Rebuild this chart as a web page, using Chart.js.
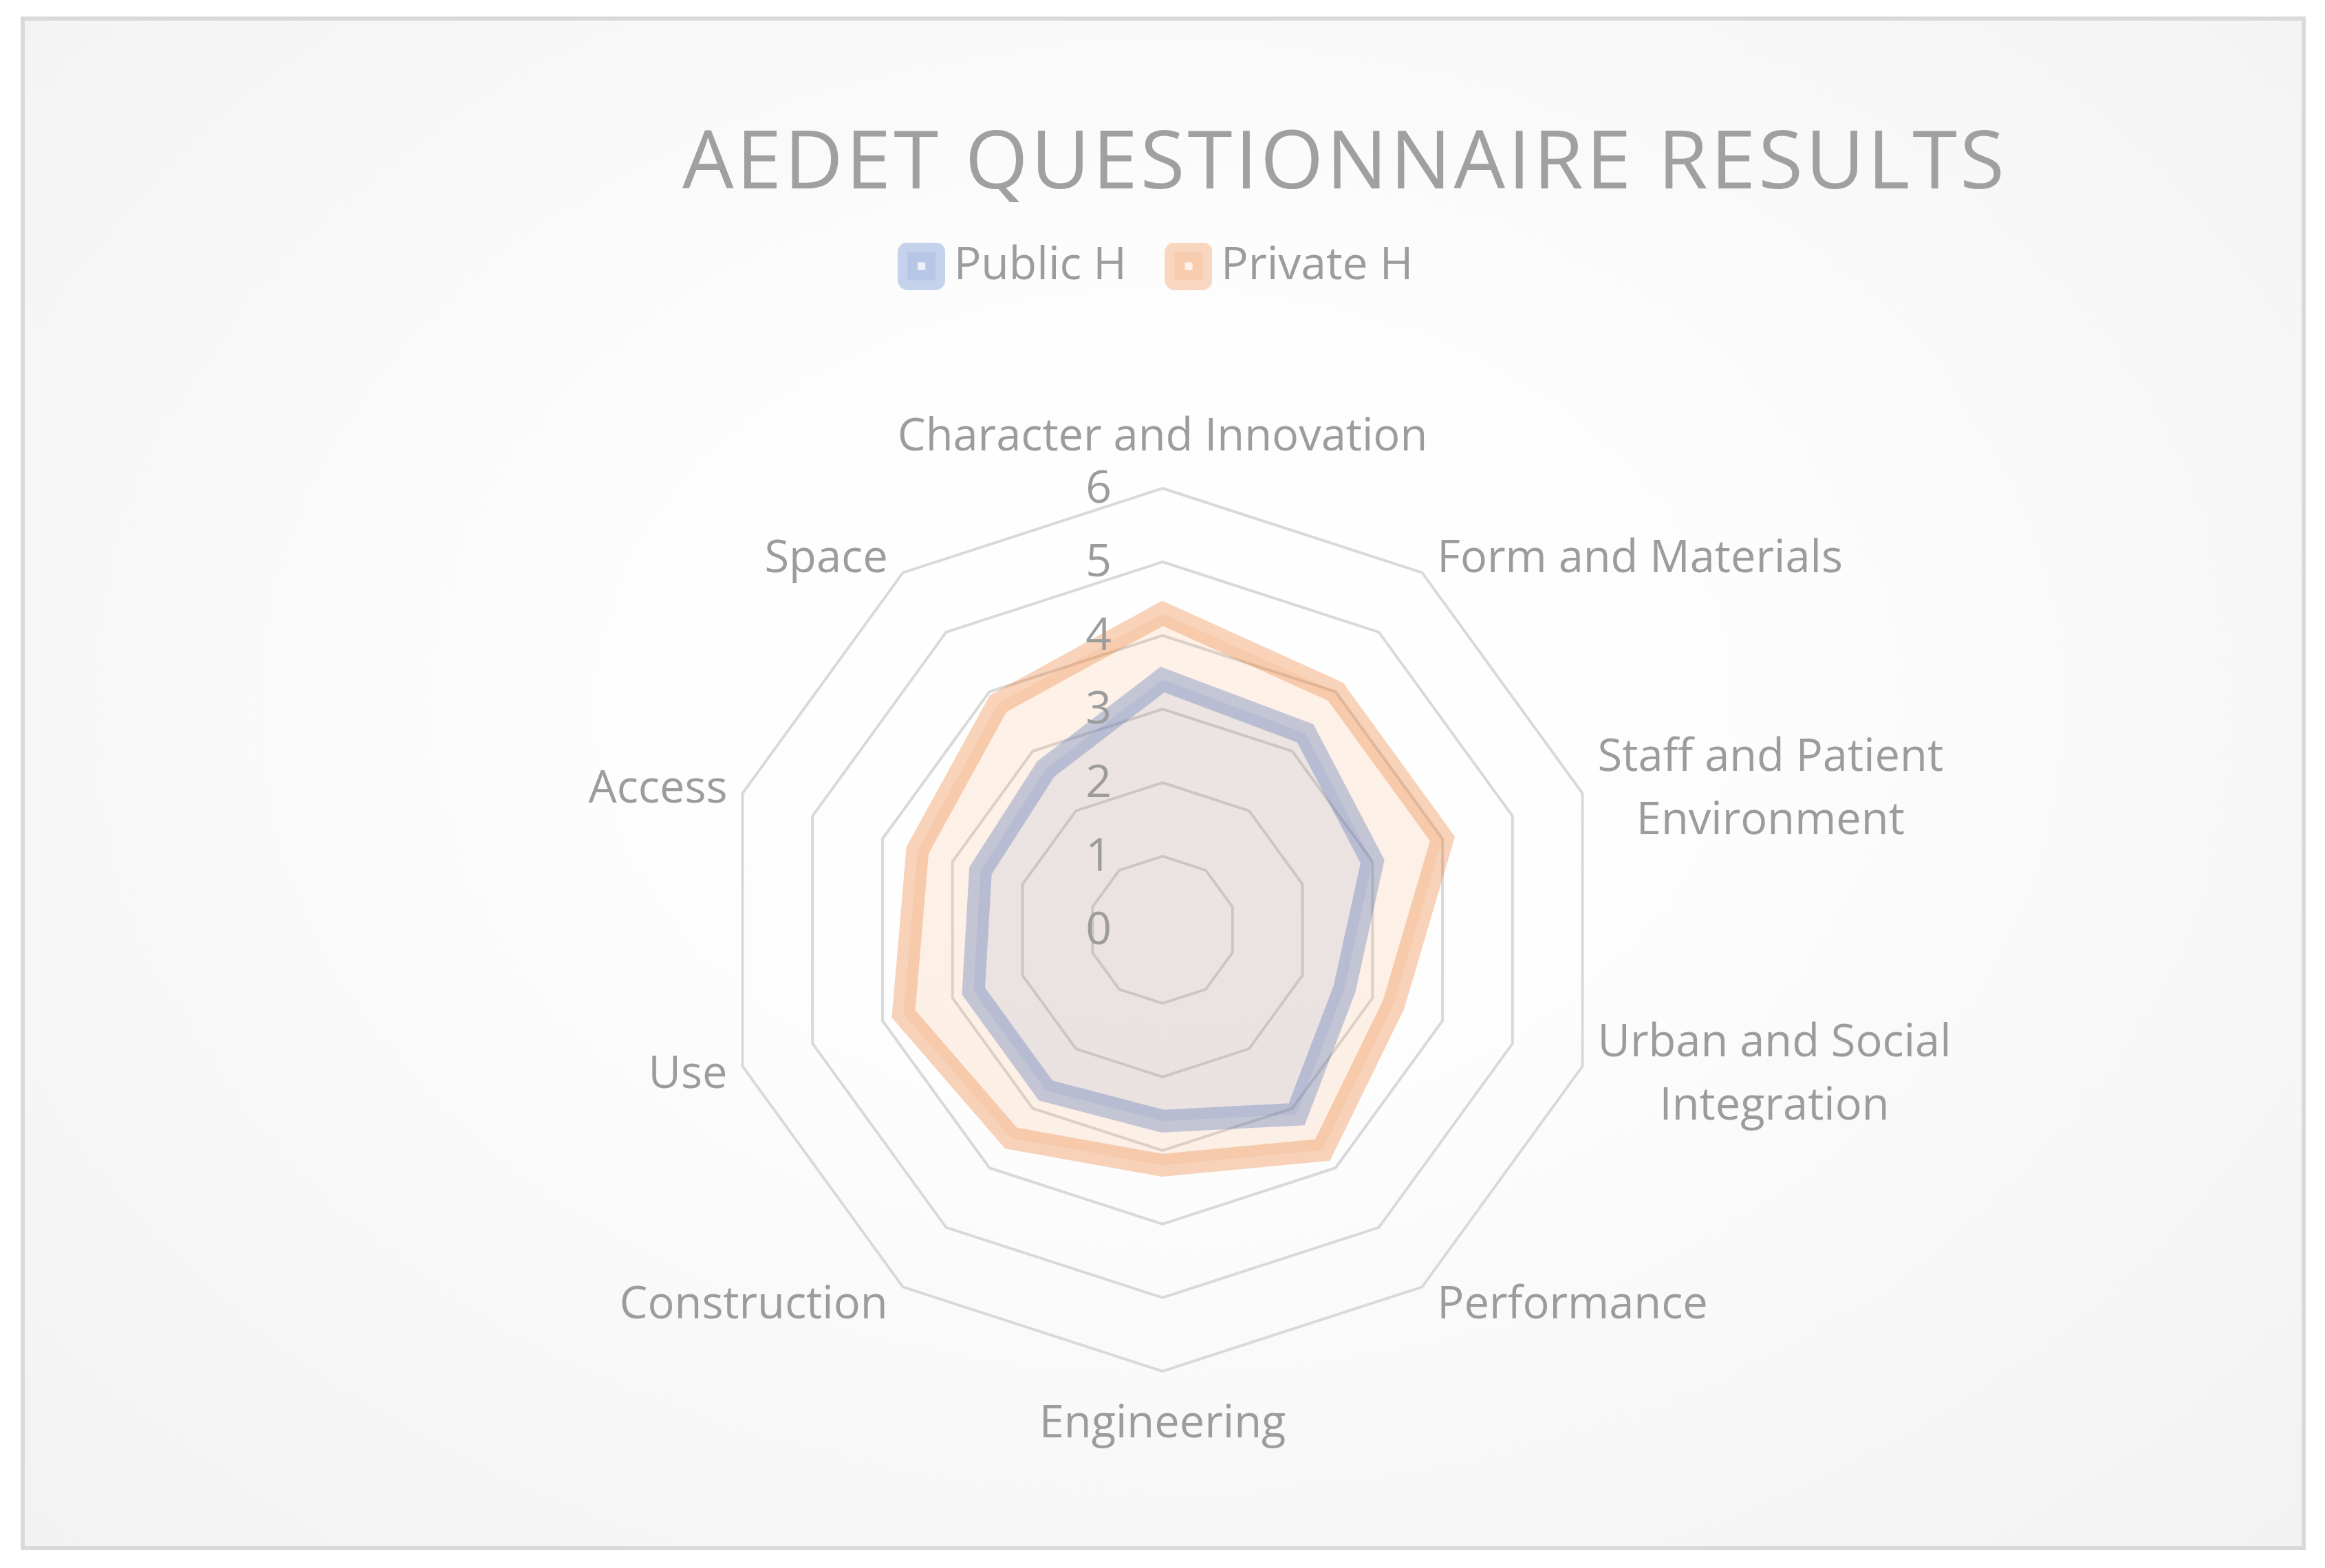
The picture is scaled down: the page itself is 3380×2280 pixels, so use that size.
<!DOCTYPE html>
<html>
<head>
<meta charset="utf-8">
<title>AEDET Questionnaire Results</title>
<script src="https://cdn.jsdelivr.net/npm/chart.js@4.4.1/dist/chart.umd.min.js"></script>
<style>
  body { margin: 0; background: #ffffff; }
  #marco {
    position: absolute; left: 30px; top: 24px; width: 3322px; height: 2230px;
    box-sizing: border-box; border: 6px solid #d9d9d9;
    background: radial-gradient(ellipse at 50% 45%, #ffffff 0%, #fdfdfd 35%, #f2f2f2 100%);
  }
  #grafico { position: absolute; left: 0; top: 0; }
</style>
</head>
<body>
<div id="marco"></div>
<canvas id="grafico" width="3380" height="2280"></canvas>

<script>
// Datos del grafico
const categorias = [
  "Character and Innovation",
  "Form and Materials",
  ["Staff and Patient", "Environment"],
  ["Urban and Social", "Integration"],
  "Performance",
  "Engineering",
  "Construction",
  "Use",
  "Access",
  "Space"
];
const publicH = [3.4, 3.3, 3.0, 2.6, 3.1, 2.6, 2.7, 2.7, 2.6, 2.7];
const privateH = [4.3, 4.0, 4.0, 3.3, 3.7, 3.2, 3.5, 3.7, 3.5, 3.8];
const valoresEje = [0, 1, 2, 3, 4, 5, 6];
const etiquetasEje = ["0", "1", "2", "3", "4", "5", "6"];

const fuente = "'Open Sans'";
const gris = "#9c9c9c";
const azul = "68, 114, 196";
const naranja = "237, 125, 49";

// marcador de la leyenda (cuadro redondeado con un cuadrito blanco al medio)
function marcador(rgb) {
  const c = document.createElement("canvas");
  c.width = 69; c.height = 69;
  const g = c.getContext("2d");
  g.fillStyle = "rgba(" + rgb + ", 0.30)";
  g.beginPath(); g.roundRect(0, 0, 69, 69, 14); g.fill();
  g.fillStyle = "rgba(" + rgb + ", 0.12)";
  g.fillRect(14, 14, 41, 41);
  g.fillStyle = "rgba(255, 255, 255, 0.75)";
  g.fillRect(29, 29, 11, 11);
  return c;
}
const marcadores = [marcador(azul), marcador(naranja)];

// titulo movido a la derecha, como en el original
const tituloPlugin = {
  id: "tituloPlugin",
  afterDraw(chart) {
    const ctx = chart.ctx;
    const texto = "AEDET QUESTIONNAIRE RESULTS";
    ctx.save();
    ctx.font = "118px " + fuente;
    ctx.fillStyle = "#a0a0a0";
    ctx.textAlign = "left";
    ctx.textBaseline = "alphabetic";
    const ancho = ctx.measureText(texto).width;
    ctx.letterSpacing = Math.max(0, (1922 - ancho) / (texto.length - 1)) + "px";
    ctx.fillText(texto, 992, 274);
    ctx.restore();
  }
};

// etiquetas de las categorias y numeros del eje
const etiquetasPlugin = {
  id: "etiquetasPlugin",
  afterDatasetsDraw(chart) {
    const r = chart.scales.r;
    const ctx = chart.ctx;
    ctx.save();
    ctx.fillStyle = gris;
    ctx.textBaseline = "middle";
    ctx.textAlign = "center";

    ctx.font = "66px " + fuente;
    valoresEje.forEach((v, i) => {
      const d = r.getDistanceFromCenterForValue(v);
      ctx.fillText(etiquetasEje[i], r.xCenter - 93, r.yCenter - d + 2);
    });

    ctx.font = "65px " + fuente;
    chart.data.labels.forEach((lab, i) => {
      const lineas = Array.isArray(lab) ? lab : [lab];
      const p = r.getPointPositionForValue(i, r.max);
      const a = r.getIndexAngle(i);
      const s = Math.sin(a), c = Math.cos(a);
      const anchoBloque = Math.max(...lineas.map((l) => ctx.measureText(l).width));
      let cx, cy;
      if (Math.abs(s) < 0.01) {
        cx = p.x;
        cy = p.y + (c > 0 ? -74 : 77);
      } else {
        cx = p.x + (s > 0 ? 22 + anchoBloque / 2 : -22 - anchoBloque / 2);
        cy = p.y - c * 28 + 4;
      }
      lineas.forEach((l, k) => {
        ctx.fillText(l, cx, cy + (k - (lineas.length - 1) / 2) * 92);
      });
    });
    ctx.restore();
  }
};

const data = {
  labels: categorias,
  datasets: [
    {
      label: "Public H",
      data: publicH,
      borderColor: "rgba(" + azul + ", 0.34)",
      backgroundColor: "rgba(" + azul + ", 0.10)",
      borderWidth: 33,
      fill: "origin",
      pointRadius: 0,
      order: 1
    },
    {
      label: "Private H",
      data: privateH,
      borderColor: "rgba(" + naranja + ", 0.33)",
      backgroundColor: "rgba(" + naranja + ", 0.11)",
      borderWidth: 33,
      fill: "origin",
      pointRadius: 0,
      order: 0
    }
  ]
};

const config = {
  type: "radar",
  data,
  options: {
    responsive: false,
    animation: false,
    layout: {
      padding: { left: 1048, right: 1048, top: 278, bottom: 6 }
    },
    elements: { line: { tension: 0, borderJoinStyle: "miter" } },
    scales: {
      r: {
        min: 0,
        max: 6,
        ticks: { display: false, stepSize: 1 },
        pointLabels: { display: false },
        angleLines: { display: false },
        grid: { color: "#d9d9d9", lineWidth: 4 }
      }
    },
    plugins: {
      tooltip: { enabled: false },
      legend: {
        position: "top",
        labels: {
          color: gris,
          font: { family: fuente, size: 66 },
          padding: 76,
          usePointStyle: true,
          pointStyleWidth: 28,
          sort: (a, b) => a.datasetIndex - b.datasetIndex,
          generateLabels: (chart) => {
            const items = Chart.defaults.plugins.legend.labels.generateLabels(chart);
            items.forEach((it) => { it.pointStyle = marcadores[it.datasetIndex]; });
            return items;
          }
        }
      }
    }
  },
  plugins: [tituloPlugin, etiquetasPlugin]
};

const myChart = new Chart(document.getElementById("grafico"), config);
</script>
</body>
</html>
